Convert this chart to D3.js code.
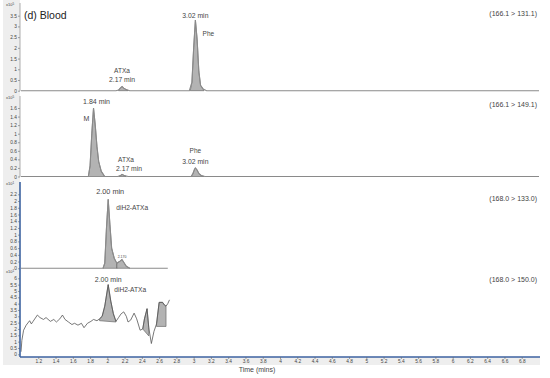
<!DOCTYPE html>
<html>
<head>
<meta charset="utf-8">
<script src="https://cdn.jsdelivr.net/npm/d3@7"></script>
<style>
body{margin:0;background:#fff;}
svg{display:block;font-family:"Liberation Sans",Arial,sans-serif;}
</style>
</head>
<body>
<div id="chrom"></div>
<script>
// traces: time (min), intensity (x10^5 / x10^1)
var p1Time = [1.0, 2.10, 2.13, 2.15, 2.17, 2.19, 2.22, 2.26, 2.95, 2.98, 3.00, 3.02, 3.04, 3.06, 3.08, 3.11, 3.15, 7.0];
var p1Int  = [0, 0, 0.03, 0.12, 0.2, 0.12, 0.05, 0, 0, 0.4, 2.0, 3.3, 2.4, 0.9, 0.25, 0.08, 0, 0];

var p2Time = [1.0, 1.78, 1.80, 1.82, 1.84, 1.86, 1.88, 1.90, 1.93, 1.97, 2.12, 2.15, 2.17, 2.20, 2.24, 2.97, 2.99, 3.01, 3.02, 3.04, 3.06, 3.09, 3.13, 7.0];
var p2Int  = [0, 0, 0.25, 1.0, 1.6, 1.2, 0.7, 0.35, 0.12, 0, 0, 0.02, 0.05, 0.02, 0, 0, 0.06, 0.17, 0.2, 0.15, 0.07, 0.02, 0, 0];

var p3Time = [1.0, 1.95, 1.97, 1.99, 2.01, 2.03, 2.05, 2.08, 2.11, 2.14, 2.17, 2.19, 2.22, 2.26, 2.70];
var p3Int  = [0, 0, 0.15, 1.2, 2.05, 1.3, 0.6, 0.3, 0.15, 0.2, 0.26, 0.18, 0.06, 0, 0];

var p4Time = [1.00, 1.01, 1.03, 1.06, 1.10, 1.12, 1.14, 1.19, 1.22, 1.26, 1.29, 1.34, 1.38, 1.41, 1.45, 1.48, 1.51, 1.55, 1.59, 1.62, 1.66, 1.70, 1.73, 1.77, 1.81, 1.84, 1.88, 1.91, 1.94, 1.97, 2.01, 2.04, 2.07, 2.10, 2.13, 2.16, 2.19, 2.22, 2.24, 2.27, 2.31, 2.34, 2.38, 2.41, 2.43, 2.46, 2.48, 2.51, 2.54, 2.57, 2.60, 2.64, 2.66, 2.68, 2.70, 2.72];
var p4Int  = [0.2, 1.1, 1.9, 2.3, 2.65, 2.4, 2.6, 3.1, 2.9, 2.75, 2.9, 2.6, 2.75, 2.55, 2.8, 3.1, 2.75, 2.55, 2.35, 2.45, 2.3, 2.45, 2.1, 2.45, 2.6, 2.75, 2.65, 2.8, 3.0, 3.8, 5.5, 4.2, 3.2, 2.6, 2.9, 3.2, 3.35, 3.0, 2.55, 2.7, 3.25, 2.8, 1.9, 2.0, 2.8, 3.6, 2.1, 0.85, 1.8, 2.4, 4.1, 4.1, 3.9, 3.8, 4.0, 4.3];

// integrated peaks: [from, to, base at from, base at to]
var p1Peaks = [[2.13, 2.24, 0, 0], [2.96, 3.12, 0, 0]];
var p2Peaks = [[1.78, 1.97, 0, 0], [2.13, 2.22, 0, 0], [2.97, 3.12, 0, 0]];
var p3Peaks = [[1.95, 2.11, 0, 0], [2.11, 2.26, 0, 0]];
var p4Peaks = [[1.91, 2.10, 2.65, 2.55], [2.41, 2.48, 2.0, 1.45], [2.57, 2.68, 2.2, 2.2]];

var p1Ticks = [0, 0.5, 1, 1.5, 2, 2.5, 3, 3.5];
var p2Ticks = [0, 0.2, 0.4, 0.6, 0.8, 1, 1.2, 1.4, 1.6];
var p3Ticks = [0, 0.2, 0.4, 0.6, 0.8, 1, 1.2, 1.4, 1.6, 1.8, 2, 2.2];
var p4Ticks = [0, 0.5, 1, 1.5, 2, 2.5, 3, 3.5, 4, 4.5, 5, 5.5, 6];
var timeTicks = [1.2, 1.4, 1.6, 1.8, 2, 2.2, 2.4, 2.6, 2.8, 3, 3.2, 3.4, 3.6, 3.8, 4, 4.2, 4.4, 4.6, 4.8, 5, 5.2, 5.4, 5.6, 5.8, 6, 6.2, 6.4, 6.6, 6.8];

var transitions = ["(166.1 > 131.1)", "(166.1 > 149.1)", "(168.0 > 133.0)", "(168.0 > 150.0)"];
var exponents = ["5", "5", "1", "1"];

// peak annotations: [time, value, text, size, dx, dy]
var p1Notes = [[2.17, 0.2, "ATXa", 6.5, 0, -13], [2.17, 0.2, "2.17 min", 6.8, 0, -4], [3.02, 3.3, "3.02 min", 6.8, 0, -2], [3.02, 3.3, "Phe", 6.5, 13, 16]];
var p2Notes = [[1.84, 1.6, "1.84 min", 7, 3, -4], [1.84, 1.6, "M", 7, -7, 13], [2.17, 0.05, "ATXa", 6.5, 4, -12], [2.17, 0.05, "2.17 min", 6.8, 7, -3], [3.02, 0.2, "Phe", 6.5, 0, -15], [3.02, 0.2, "3.02 min", 6.8, 0, -4]];
var p3Notes = [[2.01, 2.05, "2.00 min", 7.3, 2, -5], [2.01, 2.05, "diH2-ATXa", 6.6, 24, 11], [2.17, 0.26, "2.170", 3.5, 0, -2]];
var p4Notes = [[2.01, 5.5, "2.00 min", 7, 0, -3], [2.01, 5.5, "diH2-ATXa", 6.6, 22, 7]];

var panels = [
  {t: p1Time, v: p1Int, peaks: p1Peaks, notes: p1Notes, ticks: p1Ticks, vmax: 3.5, yb: 90.7, yt: 15.7, top: 3, bottom: 91, axis: "#999", line: "#8a8a8a"},
  {t: p2Time, v: p2Int, peaks: p2Peaks, notes: p2Notes, ticks: p2Ticks, vmax: 1.6, yb: 176.5, yt: 108, top: 96, bottom: 177, axis: "#999", line: "#8a8a8a"},
  {t: p3Time, v: p3Int, peaks: p3Peaks, notes: p3Notes, ticks: p3Ticks, vmax: 2.2, yb: 268.3, yt: 194.3, top: 182, bottom: 270, axis: "#3d62a0", line: "#8a8a8a"},
  {t: p4Time, v: p4Int, peaks: p4Peaks, notes: p4Notes, ticks: p4Ticks, vmax: 6, yb: 354.3, yt: 278.3, top: 270, bottom: 357, axis: "#3d62a0", line: "#555"}
];

var width = 550, height = 378;

var svg = d3.select("#chrom").append("svg")
    .attr("width", width)
    .attr("height", height);

var x = d3.scaleLinear().domain([1.0, 7.0]).range([21, 539]);
var fmt = function(d){ return d3.format("~g")(d); };

// grey strips behind the axes
svg.append("rect").attr("x", 3).attr("y", 0).attr("width", 17).attr("height", 365).attr("fill", "#eeeeee");
svg.append("rect").attr("x", 20).attr("y", 357).attr("width", 520).attr("height", 8).attr("fill", "#eeeeee");

panels.forEach(function(p, k){
  var y = d3.scaleLinear().domain([0, p.vmax]).range([p.yb, p.yt]);
  var line = d3.line().x(function(d){return x(d[0]);}).y(function(d){return y(d[1]);});
  var pts = p.t.map(function(t, i){ return [t, p.v[i]]; });

  // shaded peaks
  p.peaks.forEach(function(s){
    var inside = pts.filter(function(d){ return d[0] >= s[0] && d[0] <= s[1]; });
    var poly = [[s[0], s[2]]].concat(inside).concat([[s[1], s[3]]]);
    svg.append("path")
        .attr("d", line(poly) + "Z")
        .attr("fill", "#b3b3b3")
        .attr("stroke", "#5a5a5a")
        .attr("stroke-width", 0.6);
  });

  svg.append("path")
      .attr("d", line(pts))
      .attr("fill", "none")
      .attr("stroke", p.line)
      .attr("stroke-width", k == 3 ? 0.8 : 1.1);

  var ax = svg.append("g")
      .attr("transform", "translate(20,0)")
      .call(d3.axisLeft(y).tickValues(p.ticks).tickSize(2).tickSizeOuter(0).tickPadding(1).tickFormat(fmt));
  ax.select(".domain").remove();
  ax.selectAll("line").attr("stroke", "#666").attr("stroke-width", 0.6);
  ax.selectAll("text").attr("font-size", 4.8).attr("fill", "#444");

  svg.append("line")
      .attr("x1", 20).attr("x2", 20)
      .attr("y1", p.top).attr("y2", p.bottom)
      .attr("stroke", p.axis)
      .attr("stroke-width", k >= 2 ? 1.6 : 0.8);

  var ex = svg.append("text")
      .attr("x", 6).attr("y", p.top + 3)
      .attr("font-size", 4).attr("fill", "#444")
      .text("x10");
  ex.append("tspan").attr("dy", -1.5).attr("font-size", 3).text(exponents[k]);

  svg.append("text")
      .attr("x", 537).attr("y", [16, 107, 201, 282][k])
      .attr("text-anchor", "end")
      .attr("font-size", 7)
      .attr("fill", "#444")
      .text(transitions[k]);

  p.notes.forEach(function(n){
    svg.append("text")
        .attr("x", x(n[0]) + n[4])
        .attr("y", y(n[1]) + n[5])
        .attr("text-anchor", "middle")
        .attr("font-size", n[3])
        .attr("fill", "#444")
        .text(n[2]);
  });
});

// time axis
var xa = svg.append("g")
    .attr("transform", "translate(0,357)")
    .call(d3.axisBottom(x).tickValues(timeTicks).tickSize(2).tickSizeOuter(0).tickPadding(1).tickFormat(fmt));
xa.select(".domain").attr("stroke", "#3d62a0").attr("stroke-width", 1.6).attr("d", "M20,0H540");
xa.selectAll("line").attr("stroke", "#666").attr("stroke-width", 0.6);
xa.selectAll("text").attr("font-size", 4.8).attr("fill", "#444");

svg.append("text")
    .attr("x", 257).attr("y", 372)
    .attr("text-anchor", "middle")
    .attr("font-size", 7)
    .attr("fill", "#444")
    .text("Time (mins)");

svg.append("text")
    .attr("x", 24).attr("y", 19)
    .attr("font-size", 10.5)
    .attr("fill", "#222")
    .text("(d) Blood");
</script>
</body>
</html>
